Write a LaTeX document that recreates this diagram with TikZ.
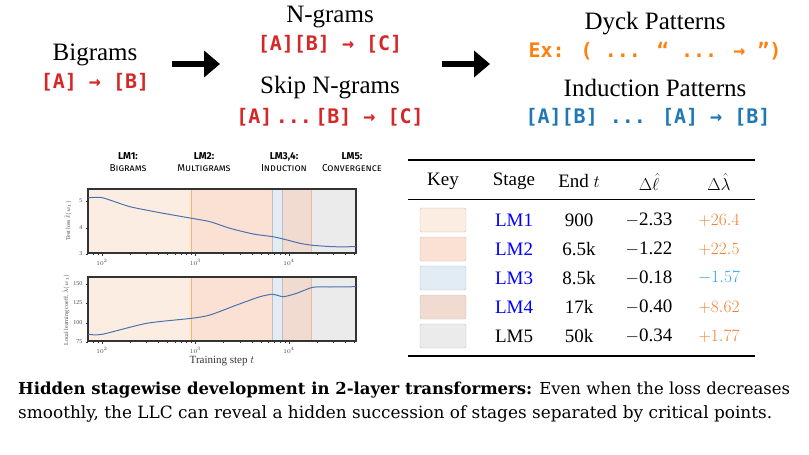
\documentclass[tikz,border=0pt]{standalone}
\usepackage{fontspec}
\usepackage{amsmath}
\setmainfont{Liberation Serif}
\newfontfamily\codef{DejaVu Sans Mono}
\newfontfamily\capf{DejaVu Serif}
\newfontfamily\hdrf{Fira Sans}
\usetikzlibrary{arrows.meta}
\definecolor{cred}{HTML}{D62728}
\definecolor{corg}{HTML}{FF7F0E}
\definecolor{cblu}{HTML}{1F77B4}
\definecolor{cA}{HTML}{FCEDE2}
\definecolor{cB}{HTML}{FAE1D3}
\definecolor{cC}{HTML}{E1ECF4}
\definecolor{cD}{HTML}{F1DAD0}
\definecolor{cE}{HTML}{EBEBEB}
\definecolor{curve}{HTML}{4C72B0}
\definecolor{lamor}{HTML}{F08030}
\definecolor{lambl}{HTML}{30A0F0}
\begin{document}
\begin{tikzpicture}[x=1pt,y=-1pt,
  title/.style={font=\fontsize{25}{28}\selectfont},
  code/.style={font=\codef\bfseries\fontsize{20}{22}\selectfont},
  bigarrow/.style={line width=6pt,-{Triangle[length=16pt,width=26pt]}},
  hdr/.style={font=\hdrf\fontsize{10}{11.5}\selectfont,align=center},
  tick/.style={font=\fontsize{6}{7}\selectfont,text=black!70},
  cell/.style={font=\fontsize{19}{21}\selectfont},
  keybox/.style={draw=black!25,rounded corners=2pt,minimum width=46pt,minimum height=24pt,inner sep=0pt}]
\useasboundingbox (0,0) rectangle (809,455);
% top flow
\node[title] (bi) at (95,55) {Bigrams};
\node[code,text=cred] (bic) at (95,82) {[A] → [B]};
\node[title] (ng) at (330,17) {N-grams};
\node[code,text=cred] (ngc) at (330,44) {[A][B] → [C]};
\node[title] (sk) at (330,88) {Skip N-grams};
\node[code,text=cred] (skc) at (330,117) {[A]\,...\,[B] → [C]};
\node[title] (dy) at (655,24) {Dyck Patterns};
\node[code,text=corg] (dyc) at (655,51) {Ex: ( ... “ ... → ”)};
\node[title] (in) at (655,88) {Induction Patterns};
\node[code,text=cblu] (inc) at (648,117) {[A][B] ... [A] → [B]};
\coordinate (a1s) at (172,64); \coordinate (a1e) at (220,64);
\coordinate (a2s) at (442,64); \coordinate (a2e) at (490,64);
\draw[bigarrow] (a1s) -- (a1e);
\draw[bigarrow] (a2s) -- (a2e);
% plot headers
\node[hdr] (h1) at (128,162) {\textbf{LM1:}\\{\scshape Bigrams}};
\node[hdr] (h2) at (204,162) {\textbf{LM2:}\\{\scshape Multigrams}};
\node[hdr] (h3) at (284,162) {\textbf{LM3,4:}\\{\scshape Induction}};
\node[hdr] (h4) at (352,162) {\textbf{LM5:}\\{\scshape Convergence}};
% panels
\foreach \ya/\yb in {189/253, 277/341}{
  \fill[cA] (88,\ya) rectangle (191,\yb);
  \fill[cB] (191,\ya) rectangle (272,\yb);
  \fill[cC] (272,\ya) rectangle (282.5,\yb);
  \fill[cD] (282.5,\ya) rectangle (311.5,\yb);
  \fill[cE] (311.5,\ya) rectangle (356,\yb);
  \draw[orange!60,line width=0.6pt] (191,\ya) -- (191,\yb);
  \draw[black!25,line width=0.6pt] (272,\ya) -- (272,\yb) (282.5,\ya) -- (282.5,\yb);
  \draw[brown!50,line width=0.6pt] (311.5,\ya) -- (311.5,\yb);
  \draw[black!80,line width=1.2pt] (88,\ya) rectangle (356,\yb);
  \foreach \d/\x in {2/102,3/195.5,4/289}{
    \draw[black!80] (\x,\yb) -- ++(0,3);
    \node[tick,anchor=north] at (\x,\yb+3) {$10^{\d}$};
  }
  \foreach \d in {0,93.5,187}{
    \foreach \m in {2,3,4,5,6,7,8,9}{
      \pgfmathsetmacro\xx{102+\d+93.5*log10(\m)}
      \ifdim\xx pt<356pt \draw[black!80] (\xx,\yb) -- ++(0,1.8);\fi
    }
  }
  \foreach \m in {7,8,9}{\pgfmathsetmacro\xx{102-93.5+93.5*log10(\m)}\ifdim\xx pt>88pt \draw[black!80] (\xx,\yb) -- ++(0,1.8);\fi}
}
\foreach \v/\y in {5/201,4/228,3/254}{\draw[black!80] (88,\y) -- ++(-2.5,0); \node[tick,anchor=east] at (86,\y) {\v};}
\foreach \v/\y in {150/284,125/303,100/323,75/342}{\draw[black!80] (88,\y) -- ++(-2.5,0); \node[tick,anchor=east] at (86,\y) {\v};}
\node[tick,rotate=90] (yl1) at (68,221) {Test loss $\hat\ell(w_t)$};
\node[tick,rotate=90] (yl2) at (66,310) {Local learning coeff. $\hat\lambda(w_t)$};
\node[font=\fontsize{11}{12}\selectfont,text=black!80] (xl) at (222,361) {Training step $t$};
\draw[curve,line width=1pt] plot[smooth,tension=0.4] coordinates {(88.3,197.7)(102.3,197.7)(130,206.7)(163.3,213.3)(191.7,218.3)(210,221.7)(230,228.3)(253.3,234)(272.7,236.7)(283.3,239)(300,243.3)(312.7,245.3)(333.3,246.7)(355.7,246.7)};
\draw[curve,line width=1pt] plot[smooth,tension=0.4] coordinates {(88.3,334.3)(102.3,334.3)(146.7,323.3)(191.7,318.3)(210,315)(236.7,305)(260,296.7)(272.7,294.3)(283.3,296.7)(296.7,293.3)(312.7,287.3)(330,287)(355.7,286.7)};
% table
\draw[line width=1.5pt] (408,160) -- (755,160);
\draw[line width=0.8pt] (408,199) -- (755,199);
\draw[line width=1.5pt] (408,356) -- (755,356);
\node[cell] (tk) at (443,181) {Key};
\node[cell] (ts) at (514,181) {Stage};
\node[cell] (te) at (579,181) {End $t$};
\node[cell,inner sep=0pt] (tl) at (649,182) {$\Delta\hat\ell$};
\node[cell,inner sep=0pt] (tm) at (719,182) {$\Delta\hat\lambda$};
\foreach \y/\c/\s/\sc/\e/\l/\m/\mc in {220/cA/LM1/blue/900/2.33/+26.4/lamor, 249/cB/LM2/blue/6.5k/1.22/+22.5/lamor, 278/cC/LM3/blue/8.5k/0.18/-1.57/lambl, 307/cD/LM4/blue/17k/0.40/+8.62/lamor, 336/cE/LM5/black/50k/0.34/+1.77/lamor}{
  \node[keybox,fill=\c] at (443,\y) {};
  \node[cell,text=\sc] at (514,\y) {\s};
  \node[cell] at (579,\y) {\e};
  \node[cell] at (649,\y) {$-$\l};
  \node[cell,text=\mc] at (719,\y) {$\m$};
}
% caption
\node[anchor=west,inner sep=0pt] (c1) at (18,390) {\resizebox{772pt}{!}{\capf\textbf{Hidden stagewise development in 2-layer transformers:} Even when the loss decreases}};
\node[anchor=west,inner sep=0pt] (c2) at (18,414) {\resizebox{754pt}{!}{\capf smoothly, the LLC can reveal a hidden succession of stages separated by critical points.}};
\end{tikzpicture}
\end{document}
